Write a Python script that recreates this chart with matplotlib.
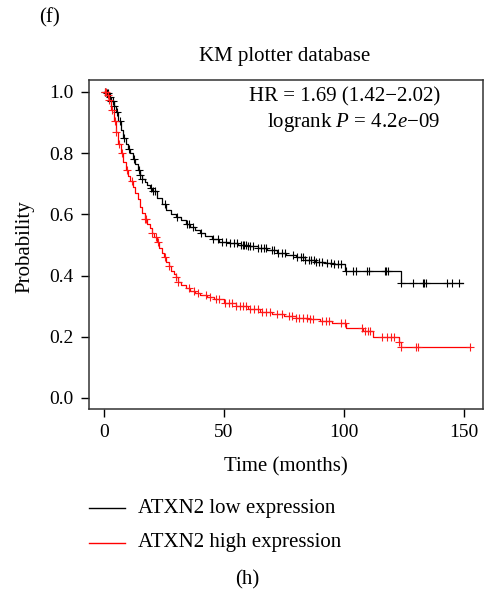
import numpy as np
import matplotlib
matplotlib.use("Agg")
import matplotlib.pyplot as plt

plt.rcParams['font.family'] = ['Liberation Serif', 'DejaVu Serif']
plt.rcParams['mathtext.fontset'] = 'custom'
plt.rcParams['mathtext.rm'] = 'Liberation Serif'
plt.rcParams['mathtext.it'] = 'Liberation Serif:italic'

# Low expression (black) step curve
low_t = [0, 1, 2, 3, 4, 5, 6, 7, 8, 9, 10, 11, 12, 13, 14, 15, 16, 17, 18, 19, 20,
         22, 24, 26, 28, 30, 32, 34, 36, 38, 40, 42, 45, 48, 52, 56, 60, 64, 68, 72,
         76, 80, 84, 88, 92, 96, 100.4, 123.75, 149.6]
low_s = [1.0, 0.995, 0.985, 0.97, 0.955, 0.935, 0.905, 0.875, 0.85, 0.83, 0.815, 0.80,
         0.78, 0.765, 0.745, 0.73, 0.715, 0.705, 0.695, 0.685, 0.675, 0.655, 0.635,
         0.615, 0.60, 0.59, 0.58, 0.57, 0.56, 0.55, 0.54, 0.53, 0.52, 0.51, 0.505,
         0.50, 0.495, 0.49, 0.485, 0.475, 0.468, 0.46, 0.452, 0.445, 0.44, 0.437,
         0.416, 0.375, 0.375]
low_cens = [0.5, 1.2, 1.8, 2.5, 3.1, 3.6, 4.2, 5.5, 6.8, 8.5, 10.5, 12.5, 14.5, 15.2,
            16.0, 19.5, 20.5, 21.3, 25.5, 30.5, 34.5, 35.5, 37, 40.5, 45.5, 47.5, 49,
            51, 52.5, 54, 55.5, 57, 57.8, 58.5, 59.3, 60, 61, 62, 64, 65.5, 66.5, 67.5,
            70, 71, 72.5, 74, 75.5, 79, 80.5, 82, 83, 84, 85.5, 86.5, 87.5, 88.5, 89.5,
            91, 93, 94.5, 96, 97.5, 99, 101, 104, 105, 109.6, 110.4, 117, 117.6, 118.2,
            124, 129, 133, 133.6, 134.2, 143, 145, 148]

# High expression (red) step curve
high_t = [0, 1, 2, 3, 4, 5, 6, 7, 8, 9, 10, 11, 12, 13, 14, 15, 16, 17, 18, 19, 20, 21,
          22, 23, 24, 25, 26, 27, 28, 29, 30, 31, 32, 34, 36, 38, 40, 43, 46, 50, 55,
          60, 65, 70, 75, 80, 85, 90, 95, 101, 108, 112, 123, 124, 152.5]
high_s = [1.0, 0.99, 0.975, 0.94, 0.905, 0.87, 0.83, 0.80, 0.77, 0.745, 0.725, 0.71,
          0.69, 0.67, 0.65, 0.625, 0.605, 0.585, 0.57, 0.555, 0.54, 0.525, 0.51, 0.49,
          0.475, 0.46, 0.445, 0.43, 0.415, 0.405, 0.395, 0.38, 0.37, 0.36, 0.35, 0.342,
          0.336, 0.33, 0.322, 0.31, 0.30, 0.29, 0.282, 0.275, 0.268, 0.262, 0.257,
          0.25, 0.244, 0.229, 0.219, 0.20, 0.183, 0.167, 0.167]
high_cens = [0.3, 0.9, 1.5, 2.2, 3.3, 4.5, 5.2, 6.2, 7.5, 9.5, 11.5, 17.0, 17.5, 20.2,
             21.5, 22.5, 25.5, 27, 30.2, 31, 35.5, 37.5, 39, 42.5, 44, 46.5, 48, 50.5,
             52, 53.5, 55, 56.5, 58, 59, 61, 62.5, 64, 66, 67.5, 69, 72, 74, 77, 78.5,
             80, 81.5, 83, 84.5, 86, 87, 91, 92.5, 94, 99, 100.4, 107.5, 109, 110, 111,
             116, 118, 119.5, 121, 123, 124, 130, 131, 152.5]

def surv_at(t_arr, s_arr, times):
    idx = np.searchsorted(np.asarray(t_arr), np.asarray(times), side='right') - 1
    return np.asarray(s_arr)[idx]

FS_TICK = 14
FS = 15
W, H = 485, 597
fig = plt.figure(figsize=(W/100, H/100), dpi=100)
ax = fig.add_axes([89/W, 1-409/H, (483-89)/W, (409-80)/H])

ax.step(low_t, low_s, where='post', color='black', lw=0.9)
ax.plot(low_cens, surv_at(low_t, low_s, low_cens), '+', color='black', ms=6, mew=0.8)
ax.step(high_t, high_s, where='post', color='#ff0000', lw=0.9)
ax.plot(high_cens, surv_at(high_t, high_s, high_cens), '+', color='#ff1a1a', ms=6, mew=0.8)

ax.set_xlim(-6.25, 158)
ax.set_ylim(-0.036, 1.039)
ax.set_xticks([0, 50, 100, 150])
ax.set_yticks([0.0, 0.2, 0.4, 0.6, 0.8, 1.0])
ax.set_yticklabels(['0.0', '0.2', '0.4', '0.6', '0.8', '1.0'])
ax.tick_params(direction='out', length=6, width=1, labelsize=FS_TICK, colors='black', pad=5)
for sp in ax.spines.values():
    sp.set_color('#333333')
    sp.set_linewidth(1.1)
ax.set_xlabel('Time (months)', fontsize=FS, va='center')
ax.xaxis.set_label_coords(0.5, (409-467)/329)
ax.set_ylabel('Probability', fontsize=FS, va='center')
ax.yaxis.set_label_coords((25-89)/394, 0.495)

fig.text(285/W, 1-57/H, 'KM plotter database', ha='center', va='center', fontsize=FS)

ax.text((440-89)/394, (409-97)/329, 'HR = 1.69 (1.42\u22122.02)', transform=ax.transAxes,
        ha='right', va='center', fontsize=FS)
ax.text((440-89)/394, (409-122)/329, 'logrank $P$ = 4.2$e$\u221209', transform=ax.transAxes,
        ha='right', va='center', fontsize=FS)

fig.text(50/W, 1-18/H, '(f)', ha='center', va='center', fontsize=FS)

# legend
fig.add_artist(plt.Line2D([89/W, 125/W], [1-508/H, 1-508/H], color='black', lw=1))
fig.add_artist(plt.Line2D([89/W, 125/W], [1-543/H, 1-543/H], color='#ff0000', lw=1))
fig.text(138/W, 1-508/H, 'ATXN2 low expression', ha='left', va='center', fontsize=FS)
fig.text(138/W, 1-543/H, 'ATXN2 high expression', ha='left', va='center', fontsize=FS)
fig.text(247/W, 1-580/H, '(h)', ha='center', va='center', fontsize=FS)

fig.savefig('out.png', dpi=100)
